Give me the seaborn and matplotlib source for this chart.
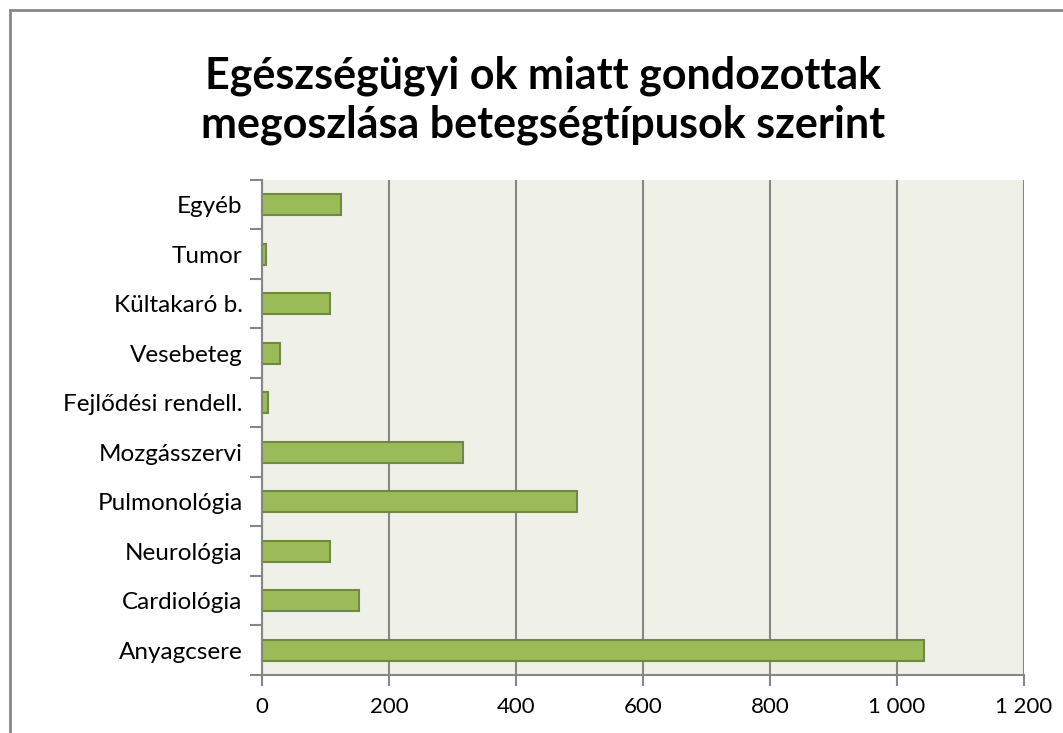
import matplotlib.pyplot as plt
import numpy as np
import pandas as pd
import seaborn as sns
from matplotlib.patches import Rectangle

# Data (top to bottom)
categories = ['Egyéb', 'Tumor', 'Kültakaró b.', 'Vesebeteg', 'Fejlődési rendell.',
              'Mozgásszervi', 'Pulmonológia', 'Neurológia', 'Cardiológia', 'Anyagcsere']
values = [124, 7, 107, 28, 10, 316, 496, 107, 152, 1042]
x_ticks = [0, 200, 400, 600, 800, 1000, 1200]
x_tick_labels = ['0', '200', '400', '600', '800', '1 000', '1 200']
title = 'Egészségügyi ok miatt gondozottak\nmegoszlása betegségtípusok szerint'

df = pd.DataFrame({'kategoria': categories, 'ertek': values})

sns.set_style('white')
plt.rcParams['font.family'] = ['Lato', 'DejaVu Sans']

fig = plt.figure(figsize=(10.63, 7.33), dpi=100)
ax = fig.add_axes([262 / 1063, 1 - 675 / 733, (1024 - 262) / 1063, (675 - 180) / 733])

# Outer chart border
fig.patches.append(Rectangle((10 / 1063, -0.1), 1.2, 1 - 10 / 733 + 0.1,
                             transform=fig.transFigure, fill=False,
                             edgecolor='#868686', linewidth=2))

ax.set_facecolor('#EFF1E9')
sns.barplot(data=df, y='kategoria', x='ertek', orient='h', order=categories,
            color='#9BBB59', edgecolor='#71893F', linewidth=1.5,
            width=0.42, saturation=1, ax=ax)

ax.set_xlim(0, 1200)
ax.set_ylim(len(categories) - 0.5, -0.5)
ax.set_xticks(x_ticks, x_tick_labels)
ax.set_xlabel('')
ax.set_ylabel('')

# vertical gridlines
ax.grid(axis='x', color='#868686', linewidth=1.5)
ax.set_axisbelow(True)

for side in ['top', 'right']:
    ax.spines[side].set_visible(False)
for side in ['left', 'bottom']:
    ax.spines[side].set_color('#868686')
    ax.spines[side].set_linewidth(1.5)

# y ticks between categories
ax.set_yticks(np.arange(-0.5, len(categories), 1.0), minor=True)
ax.tick_params(axis='y', which='major', length=0, pad=14, labelsize=17.5, labelcolor='black')
ax.tick_params(axis='y', which='minor', length=9, width=1.5, color='#868686', left=True)
ax.tick_params(axis='x', which='major', length=8, width=1.5, color='#868686',
               bottom=True, labelsize=16, pad=8, labelcolor='black')

fig.text(543 / 1063, 1 - 100 / 733, title, ha='center', va='center', color='black',
         fontsize=31, fontweight='bold', linespacing=1.25)

fig.savefig('out.png', dpi=100)
